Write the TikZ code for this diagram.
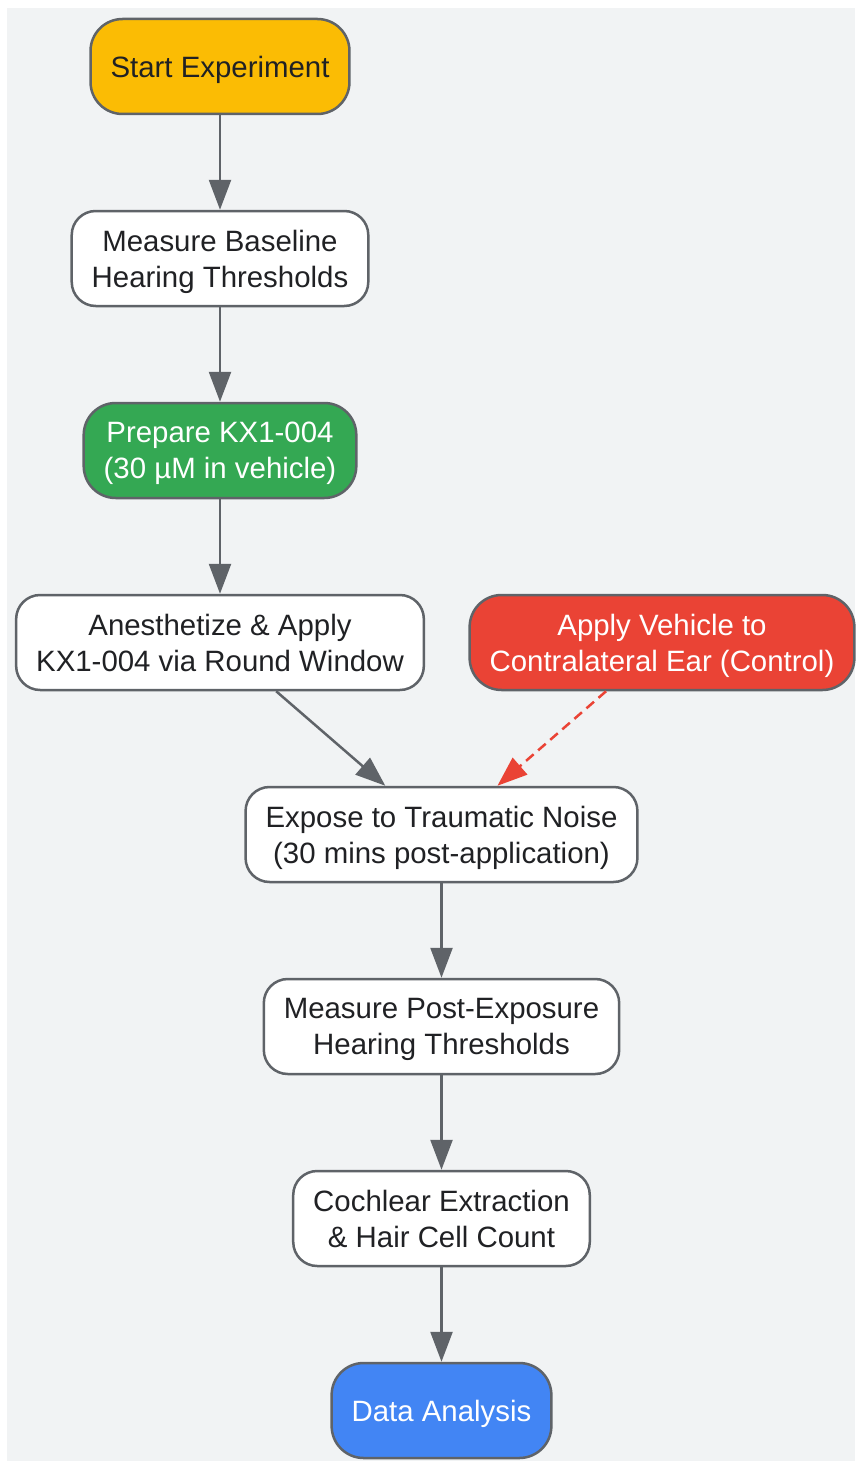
\documentclass[tikz,border=0pt]{standalone}
\usepackage{fontspec}
\setmainfont{Liberation Sans}
\usepackage{xcolor}
\usetikzlibrary{arrows.meta,positioning}
\definecolor{edgegray}{HTML}{5F6368}
\definecolor{inktext}{HTML}{202124}
\definecolor{canvas}{HTML}{F1F3F4}
\definecolor{startyellow}{HTML}{FBBC04}
\definecolor{prepgreen}{HTML}{34A853}
\definecolor{ctrlred}{HTML}{EA4335}
\definecolor{endblue}{HTML}{4285F4}
\tikzset{
  box/.style={draw=edgegray, line width=2.5pt, rounded corners=24pt, fill=white,
    text=inktext, minimum height=95pt, inner xsep=20pt, align=center,
    text depth=0pt, font=\fontsize{29.4}{36}\selectfont},
  term/.style={box, rounded corners=32pt},
  flow/.style={-{Triangle[length=30pt,width=22pt]}, line width=2.5pt, draw=edgegray},
  ctrl/.style={flow, draw=ctrlred, dash pattern=on 10pt off 6pt}
}

\begin{document}
\begin{tikzpicture}[x=1pt, y=-1pt]
  \useasboundingbox (0,0) rectangle (855,1461);
  \fill[canvas] (7,8) rectangle (855,1461);

  % --- Main protocol column ---
  \node[term, fill=startyellow] (start) at (220,66.5) {Start Experiment};
  \node[box] (baseline) at (220,258.5) {Measure Baseline\\Hearing Thresholds};
  \node[term, fill=prepgreen, text=white] (prep) at (220,450.5) {Prepare KX1-004\\(30 µM in vehicle)};
  \node[box] (apply) at (220,642.5) {Anesthetize \& Apply\\KX1-004 via Round Window};

  % --- Control branch ---
  \node[term, fill=ctrlred, text=white] (vehicle) at (662,642.5) {Apply Vehicle to\\Contralateral Ear (Control)};

  % --- After noise exposure ---
  \node[box] (noise) at (441.5,834.5) {Expose to Traumatic Noise\\(30 mins post-application)};
  \node[box] (post) at (441.5,1026.5) {Measure Post-Exposure\\Hearing Thresholds};
  \node[box] (cochlea) at (441.5,1218.5) {Cochlear Extraction\\\& Hair Cell Count};
  \node[term, fill=endblue, text=white] (analysis) at (441.5,1410.5) {Data Analysis};

  \foreach \u/\v in {start/baseline, baseline/prep, prep/apply, apply/noise,
                     noise/post, post/cochlea, cochlea/analysis}
    \draw[flow] (\u) -- (\v);
  \draw[ctrl] (vehicle) -- (noise);
\end{tikzpicture}
\end{document}
